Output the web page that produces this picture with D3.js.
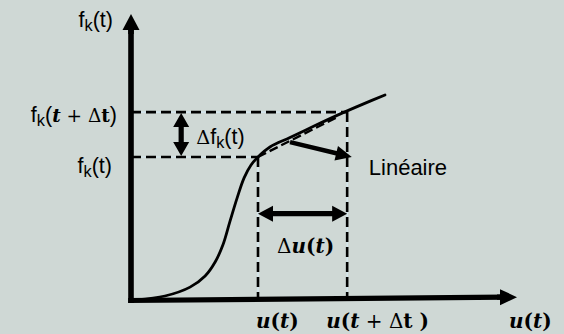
<!DOCTYPE html>
<html>
<head>
<meta charset="utf-8">
<script src="https://cdn.jsdelivr.net/npm/d3@7"></script>
<style>
  html, body { margin: 0; padding: 0; background: #cfd8d5; }
  svg { display: block; }
</style>
</head>
<body>
<svg id="chart" width="564" height="334"></svg>
<script>
// Response curve f_k(u), in abstract axis units (0..10 on both axes)
const curveU = [0.13, 0.88, 1.53, 1.92, 2.18, 2.38, 2.56, 2.75, 2.93, 3.11, 3.29, 3.60, 4.12, 4.77, 5.41, 6.01, 6.58];
const curveF = [0.00, 0.14, 0.45, 0.84, 1.33, 1.92, 2.73, 3.57, 4.27, 4.72, 5.00, 5.35, 5.68, 6.10, 6.50, 6.85, 7.17];

// Operating points: u(t), u(t+Δt) and their responses
const uPoints = [3.29, 5.60];
const fPoints = [5.00, 6.57];

// Pointer towards the "Linéaire" label, start and end
const pointerU = [4.12, 5.72];
const pointerF = [5.52, 5.00];

// Positions of the Δ double arrows
const deltaFAt = 1.30;   // u position of the Δf arrow
const deltaUAt = 3.02;   // f position of the Δu arrow

// Axis extents
const axisMax = 10;
const xAxisEndF = 0.10;  // hand-drawn axis rises slightly to the right

const svg = d3.select("#chart");
const W = 564, H = 334;

svg.append("rect").attr("width", W).attr("height", H).attr("fill", "#cfd8d5");

const x = d3.scaleLinear().domain([0, axisMax]).range([131, 517]);
const y = d3.scaleLinear().domain([0, axisMax]).range([300, 14]);

// Polygon for a straight arrow with head(s)
function arrowPath(x0, y0, x1, y1, headLen, headHalf, shaftHalf, both) {
  const dx = x1 - x0, dy = y1 - y0, L = Math.hypot(dx, dy);
  const ux = dx / L, uy = dy / L, nx = -uy, ny = ux;
  const P = (s, n) => [x0 + ux * s + nx * n, y0 + uy * s + ny * n];
  const pts = [];
  if (both) {
    pts.push(P(0, 0), P(headLen, headHalf), P(headLen, shaftHalf));
  } else {
    pts.push(P(0, shaftHalf));
  }
  pts.push(P(L - headLen, shaftHalf), P(L - headLen, headHalf), P(L, 0),
           P(L - headLen, -headHalf), P(L - headLen, -shaftHalf));
  if (both) {
    pts.push(P(headLen, -shaftHalf), P(headLen, -headHalf));
  } else {
    pts.push(P(0, -shaftHalf));
  }
  return "M" + pts.map(p => p[0].toFixed(2) + "," + p[1].toFixed(2)).join("L") + "Z";
}

// Guide lines (dashed, with a faint light-blue hairline underneath)
const guides = [
  [0, fPoints[0], uPoints[0], fPoints[0]],
  [0, fPoints[1], uPoints[1], fPoints[1]],
  [uPoints[0], fPoints[0], uPoints[0], 0],
  [uPoints[1], fPoints[1], uPoints[1], 0]
];
const gGuide = svg.append("g");
guides.forEach(g => {
  gGuide.append("line")
    .attr("x1", x(g[0])).attr("y1", y(g[1])).attr("x2", x(g[2])).attr("y2", y(g[3]))
    .attr("stroke", "#d6eaf4").attr("stroke-width", 1.2);
  gGuide.append("line")
    .attr("x1", x(g[0])).attr("y1", y(g[1])).attr("x2", x(g[2])).attr("y2", y(g[3]))
    .attr("stroke", "#000").attr("stroke-width", 2.6).attr("stroke-dasharray", "10,5");
});

// Linear chord between the two operating points
svg.append("line")
  .attr("x1", x(uPoints[0])).attr("y1", y(fPoints[0]))
  .attr("x2", x(uPoints[1]) - 8).attr("y2", y(fPoints[1]) + 4)
  .attr("stroke", "#000").attr("stroke-width", 2.4).attr("stroke-dasharray", "9,4");

// Response curve
const line = d3.line().x(d => x(d[0])).y(d => y(d[1])).curve(d3.curveCatmullRom.alpha(0.5));
svg.append("path")
  .datum(curveU.map((u, i) => [u, curveF[i]]))
  .attr("d", line)
  .attr("fill", "none").attr("stroke", "#000").attr("stroke-width", 2.8)
  .attr("stroke-linecap", "round");

// Axes
svg.append("line")
  .attr("x1", x(0)).attr("y1", y(0) + 3).attr("x2", x(0)).attr("y2", y(axisMax) + 12)
  .attr("stroke", "#000").attr("stroke-width", 5.6);
svg.append("path")
  .attr("d", arrowPath(x(0), y(axisMax) + 20, x(0), y(axisMax), 16, 8.5, 2.8, false))
  .attr("fill", "#000");
svg.append("line")
  .attr("x1", x(0) - 2.8).attr("y1", y(0) + 0.5).attr("x2", x(axisMax) - 12).attr("y2", y(xAxisEndF))
  .attr("stroke", "#000").attr("stroke-width", 5.2);
svg.append("path")
  .attr("d", arrowPath(x(axisMax) - 20, y(xAxisEndF), x(axisMax), y(xAxisEndF), 17, 8, 2.6, false))
  .attr("fill", "#000");

// Δf double arrow
svg.append("path")
  .attr("d", arrowPath(x(deltaFAt), y(fPoints[1]) + 1, x(deltaFAt), y(fPoints[0]) - 1, 14, 8, 2.6, true))
  .attr("fill", "#000");
// Δu double arrow
svg.append("path")
  .attr("d", arrowPath(x(uPoints[0]), y(deltaUAt), x(uPoints[1]), y(deltaUAt), 15, 8, 2.6, true))
  .attr("fill", "#000");
// Pointer to the linear chord label
svg.append("path")
  .attr("d", arrowPath(x(pointerU[0]), y(pointerF[0]), x(pointerU[1]), y(pointerF[1]), 16, 7.5, 2.2, false))
  .attr("fill", "#000");

// Labels
const sans = "'Liberation Sans', Arial, sans-serif";
const serif = "'DejaVu Serif', 'Liberation Serif', serif";
const fs = 21.5;
const sub = fs * 0.76;

function richText(anchor, px, py, parts) {
  const el = svg.append("text").attr("x", px).attr("y", py)
    .attr("text-anchor", anchor).attr("font-size", fs).attr("fill", "#000");
  parts.forEach(p => {
    const ts = el.append("tspan").text(p.s)
      .attr("font-family", p.f || sans);
    if (p.w) ts.attr("font-weight", p.w);
    if (p.i) ts.attr("font-style", "italic");
    if (p.size) ts.attr("font-size", p.size);
    if (p.dy) ts.attr("dy", p.dy);
  });
  return el;
}

const fkParts = [
  { s: "f" }, { s: "k", size: sub, dy: 4 }, { s: "(t)", dy: -4 }
];

// vertical axis title
richText("end", x(0) - 18, y(axisMax) + 13, fkParts);
// f_k(t + Δt)
richText("end", x(0) - 14, y(fPoints[1]) + 10, [
  { s: "f" }, { s: "k", size: sub, dy: 4 }, { s: "(", dy: -4 },
  { s: "t", f: serif, w: "bold", i: true, size: fs * 0.86 },
  { s: " + Δ", f: serif, size: fs * 0.86 },
  { s: "t", f: serif, w: "bold", size: fs * 0.86 },
  { s: ")" }
]);
// f_k(t)
richText("end", x(0) - 19, y(fPoints[0]) + 16, fkParts);
// Δf_k(t)
richText("start", x(deltaFAt) + 15, y((fPoints[0] + fPoints[1]) / 2) + 9, [
  { s: "Δ", f: serif, size: fs * 0.9 }, { s: "f" }, { s: "k", size: sub, dy: 4 }, { s: "(t)", dy: -4 }
]);
// Linéaire
svg.append("text").attr("x", x(pointerU[1]) + 17).attr("y", y(pointerF[1]) + 18)
  .attr("font-family", sans).attr("font-size", 22).attr("fill", "#000").text("Linéaire");

// Math labels
const mfs = 20;
function mathLabel(anchor, px, py, parts) {
  const el = svg.append("text").attr("x", px).attr("y", py)
    .attr("text-anchor", anchor).attr("font-family", serif)
    .attr("font-size", mfs).attr("fill", "#000");
  parts.forEach(p => {
    const ts = el.append("tspan").text(p.s);
    ts.attr("font-weight", p.w === undefined ? "bold" : p.w);
    if (p.i) ts.attr("font-style", "italic");
  });
}
mathLabel("middle", (x(uPoints[0]) + x(uPoints[1])) / 2 + 3, y(deltaUAt) + 39, [
  { s: "Δ", w: "normal" }, { s: "u", i: true }, { s: "(" }, { s: "t", i: true }, { s: ")" }
]);
mathLabel("start", x(uPoints[0]) - 2, y(0) + 28, [
  { s: "u", i: true }, { s: "(" }, { s: "t", i: true }, { s: ")" }
]);
mathLabel("start", x(uPoints[1]) - 21, y(0) + 28, [
  { s: "u", i: true }, { s: "(" }, { s: "t", i: true }, { s: " + Δ", w: "normal" }, { s: "t" }, { s: " )" }
]);
mathLabel("start", x(axisMax) - 8, y(0) + 28, [
  { s: "u", i: true }, { s: "(" }, { s: "t", i: true }, { s: ")" }
]);
</script>
</body>
</html>
